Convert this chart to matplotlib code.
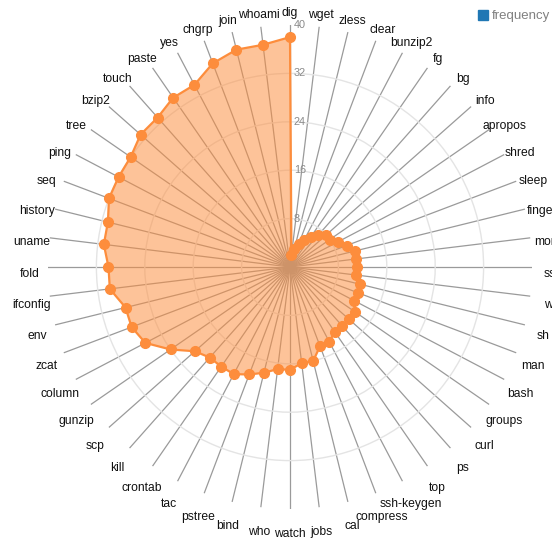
import numpy as np
import matplotlib
matplotlib.use("Agg")
import matplotlib.pyplot as plt
from matplotlib.patches import Patch
from matplotlib.transforms import offset_copy

plt.rcParams['font.family'] = ['Liberation Sans', 'DejaVu Sans']

# commands, clockwise from the top
commands = ['dig', 'wget', 'zless', 'clear', 'bunzip2', 'fg', 'bg', 'info', 'apropos',
            'shred', 'sleep', 'finger', 'more', 'ss', 'w', 'sh', 'man', 'bash',
            'groups', 'curl', 'ps', 'top', 'ssh-keygen', 'compress', 'cal', 'jobs', 'watch',
            'who', 'bind', 'pstree', 'tac', 'crontab', 'kill', 'scp', 'gunzip', 'column',
            'zcat', 'env', 'ifconfig', 'fold', 'uname', 'history', 'seq', 'ping', 'tree',
            'bzip2', 'touch', 'paste', 'yes', 'chgrp', 'join', 'whoami']
frequency = [38, 2, 3, 4, 5, 6, 7, 8, 8,
             9, 10, 11, 11, 11, 11, 12, 12, 12,
             13, 13, 13, 13, 14, 14, 16, 16, 17,
             17, 18, 19, 20, 20, 20, 21, 24, 27,
             28, 28, 30, 30, 31, 31, 32, 32, 32,
             33, 33, 34, 34, 36, 37, 37]
rings = [8, 16, 24, 32]
rlabels = [8, 16, 24, 32, 40]

orange = '#fd8d3c'

fig = plt.figure(figsize=(5.52, 5.38), dpi=100)
ax = fig.add_axes([48 / 552, 1 - 509 / 538, 484 / 552, 484 / 538], projection='polar')
ax.set_theta_zero_location('N')
ax.set_theta_direction(-1)

n = len(commands)
angles = np.arange(n) * 2 * np.pi / n

# spokes and rings
ax.set_xticks(angles)
ax.set_xticklabels([])
ax.set_yticks(rings)
ax.set_yticklabels([])
ax.set_ylim(0, 40)
ax.xaxis.grid(True, color='#9a9a9a', linewidth=0.9)
ax.yaxis.grid(True, color='#e4e4e4', linewidth=1.0)
ax.spines['polar'].set_visible(False)
ax.tick_params(length=0)

closed_a = np.append(angles, angles[0])
closed_v = np.append(frequency, frequency[0])
ax.fill(closed_a, closed_v, color=orange, alpha=0.52, zorder=3, linewidth=0)
ax.plot(closed_a, closed_v, color=orange, linewidth=1.6, zorder=4)
ax.plot(angles, frequency, 'o', color=orange, markersize=7, zorder=5)

tick_tr = offset_copy(ax.transData, fig=fig, x=4, y=0, units='dots')
for t in rlabels:
    ax.text(0, t, str(t), transform=tick_tr, ha='left', va='center',
            fontsize=7.8, color='#8a8a8a', zorder=6, clip_on=False)

lab_tr = offset_copy(ax.transData, fig=fig, x=0, y=-6.5, units='dots')
for a, name in zip(angles, commands):
    ax.text(a, 43.0, name, transform=lab_tr, ha='center', va='center',
            fontsize=8.7, color='#111111', clip_on=False)

fig.legend(handles=[Patch(color='#1f77b4', label='frequency')], loc='upper left',
           bbox_to_anchor=(478 / 552, 1 - 10 / 538), frameon=False, fontsize=9.5,
           labelcolor='#808080', handlelength=0.75, handleheight=0.75, handletextpad=0.3,
           borderpad=0, borderaxespad=0)

fig.savefig('out.png', dpi=100)
